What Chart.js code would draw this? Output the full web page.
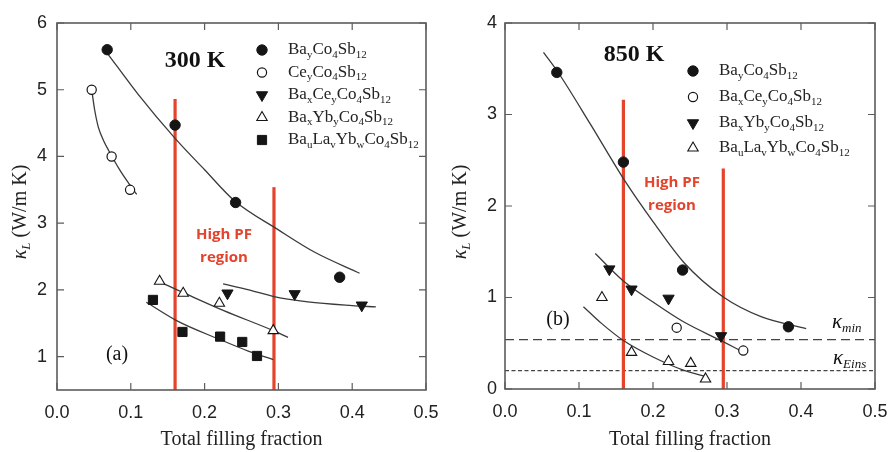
<!DOCTYPE html>
<html>
<head>
<meta charset="utf-8">
<script src="https://cdn.jsdelivr.net/npm/chart.js@4.4.1/dist/chart.umd.min.js"></script>
<style>
    html, body { margin: 0; padding: 0; background: #fff; }
    #wrap { position: relative; width: 889px; height: 452px; }
    #chartA { position: absolute; left: 0; top: 0; }
    #chartB { position: absolute; left: 445px; top: 0; }
</style>
</head>
<body>
<div id="wrap">
    <canvas id="chartA" width="445" height="452"></canvas>
    <canvas id="chartB" width="444" height="452"></canvas>
</div>
<script>
// 축 눈금
const xTicks = [0, 0.1, 0.2, 0.3, 0.4, 0.5];
const yTicksA = [1, 2, 3, 4, 5, 6];
const yTicksB = [0, 1, 2, 3, 4];

// (a) 300 K 측정값 [filling fraction, kappa_L]
const baA = [[0.068, 5.6], [0.16, 4.47], [0.242, 3.31], [0.383, 2.19]];
const ceA = [[0.047, 5.0], [0.074, 4.0], [0.099, 3.5]];
const baCeA = [[0.231, 1.95], [0.322, 1.94], [0.413, 1.77]];
const baYbA = [[0.139, 2.13], [0.171, 1.95], [0.22, 1.8], [0.293, 1.39]];
const baLaYbA = [[0.13, 1.85], [0.17, 1.37], [0.221, 1.3], [0.251, 1.22], [0.271, 1.01]];

// (a) 피팅 곡선
const fitBaA = [[0.068, 5.55], [0.11, 4.93], [0.16, 4.27], [0.20, 3.8], [0.24, 3.34], [0.30, 2.9], [0.35, 2.56], [0.41, 2.25]];
const fitCeA = [[0.047, 5.0], [0.051, 4.7], [0.056, 4.44], [0.063, 4.24], [0.07, 4.09], [0.085, 3.8], [0.099, 3.57], [0.108, 3.43]];
const fitBaCeA = [[0.225, 2.09], [0.26, 2.0], [0.294, 1.9], [0.34, 1.82], [0.40, 1.765], [0.432, 1.745]];
const fitBaYbA = [[0.141, 2.11], [0.171, 1.96], [0.226, 1.69], [0.293, 1.39], [0.313, 1.29]];
const fitBaLaYbA = [[0.121, 1.815], [0.162, 1.54], [0.221, 1.255], [0.26, 1.08], [0.293, 0.955]];

// (b) 850 K 측정값
const baB = [[0.07, 3.46], [0.16, 2.48], [0.24, 1.3], [0.383, 0.68]];
const baCeB = [[0.232, 0.67], [0.322, 0.42]];
const baYbB = [[0.141, 1.31], [0.171, 1.09], [0.221, 0.99], [0.292, 0.58]];
const baLaYbB = [[0.131, 1.0], [0.171, 0.4], [0.221, 0.3], [0.251, 0.28], [0.271, 0.11]];

// (b) 피팅 곡선
const fitBaB = [[0.052, 3.68], [0.071, 3.47], [0.115, 2.9], [0.16, 2.3], [0.2, 1.83], [0.242, 1.38], [0.294, 1.01], [0.346, 0.79], [0.407, 0.66]];
const fitBaYbB = [[0.122, 1.48], [0.16, 1.18], [0.2, 0.95], [0.24, 0.74], [0.294, 0.52], [0.323, 0.4]];
const fitBaLaYbB = [[0.106, 0.9], [0.13, 0.72], [0.16, 0.53], [0.2, 0.35], [0.24, 0.21], [0.274, 0.13]];

// 기준선 (kappa_min, kappa_Eins)
const kappaMin = 0.54;
const kappaEins = 0.2;

// High PF 영역 경계 [x, 선 위쪽 끝]
const pfLinesA = [[0.16, 4.86], [0.294, 3.54]];
const pfLinesB = [[0.16, 3.16], [0.295, 2.41]];

// 범례
const legendA = ['Ba_{y}Co_{4}Sb_{12}', 'Ce_{y}Co_{4}Sb_{12}', 'Ba_{x}Ce_{y}Co_{4}Sb_{12}', 'Ba_{x}Yb_{y}Co_{4}Sb_{12}', 'Ba_{u}La_{v}Yb_{w}Co_{4}Sb_{12}'];
const legendB = ['Ba_{y}Co_{4}Sb_{12}', 'Ba_{x}Ce_{y}Co_{4}Sb_{12}', 'Ba_{x}Yb_{y}Co_{4}Sb_{12}', 'Ba_{u}La_{v}Yb_{w}Co_{4}Sb_{12}'];

const RED = '#e4432c';
const CURVE = '#3a3a3a';
const INK = '#151515';

const markerStyles = {
    fcirc: { pointStyle: 'circle', radius: 5.2, rotation: 0, fill: INK, borderWidth: 1 },
    ocirc: { pointStyle: 'circle', radius: 4.6, rotation: 0, fill: '#fff', borderWidth: 1.2 },
    dtri: { pointStyle: 'triangle', radius: 6.5, rotation: 180, fill: INK, borderWidth: 1 },
    utri: { pointStyle: 'triangle', radius: 6, rotation: 0, fill: '#fff', borderWidth: 1.1 },
    sq: { pointStyle: 'rect', radius: 6.5, rotation: 0, fill: INK, borderWidth: 1 }
};

const toXY = arr => arr.map(([x, y]) => ({ x, y }));

function pointDs(data, m) {
    const s = markerStyles[m];
    return {
        data: toXY(data), showLine: false,
        pointStyle: s.pointStyle, pointRadius: s.radius, pointRotation: s.rotation,
        pointBackgroundColor: s.fill, pointBorderColor: INK, pointBorderWidth: s.borderWidth,
        order: 0
    };
}

function lineDs(data, color, width, dash, order) {
    return {
        data: toXY(data), showLine: true, pointRadius: 0,
        borderColor: color, borderWidth: width, borderDash: dash || [],
        cubicInterpolationMode: 'monotone', fill: false, order: order
    };
}

// 아래첨자 포함 텍스트 그리기
function parseFormula(str) {
    return str.split(/_\{([^}]*)\}/).map((t, i) => ({ t, sub: i % 2 === 1 })).filter(s => s.t);
}

function drawSegs(ctx, segs, x, y, size, align) {
    const subSize = Math.round(size * 0.64);
    const fontOf = s => `${s.it ? 'italic ' : ''}${s.sub ? subSize : size}px "Liberation Serif"`;
    let w = 0;
    segs.forEach(s => { ctx.font = fontOf(s); w += ctx.measureText(s.t).width; });
    let cx = align === 'center' ? x - w / 2 : x;
    ctx.textAlign = 'left';
    ctx.textBaseline = 'middle';
    segs.forEach(s => {
        ctx.font = fontOf(s);
        ctx.fillText(s.t, cx, s.sub ? y + size * 0.3 : y);
        cx += ctx.measureText(s.t).width;
    });
}

function drawMarker(ctx, m, x, y) {
    const s = markerStyles[m];
    ctx.fillStyle = s.fill;
    ctx.strokeStyle = INK;
    ctx.lineWidth = s.borderWidth;
    Chart.helpers.drawPoint(ctx, { pointStyle: s.pointStyle, radius: s.radius, rotation: s.rotation, borderWidth: s.borderWidth }, x, y);
}

// 테두리, 안쪽 눈금, 주석 텍스트
function decorPlugin(cfg) {
    return {
        id: 'decor',
        afterDraw(chart) {
            const ctx = chart.ctx, a = chart.chartArea;
            const xs = chart.scales.x, ys = chart.scales.y;
            ctx.save();

            ctx.strokeStyle = '#5c5c5c';
            ctx.lineWidth = 1.2;
            ctx.beginPath();
            xs.ticks.forEach(t => {
                const p = xs.getPixelForValue(t.value);
                ctx.moveTo(p, a.bottom); ctx.lineTo(p, a.bottom - 7);
                ctx.moveTo(p, a.top); ctx.lineTo(p, a.top + 7);
            });
            ys.ticks.forEach(t => {
                const p = ys.getPixelForValue(t.value);
                ctx.moveTo(a.left, p); ctx.lineTo(a.left + 7, p);
                ctx.moveTo(a.right, p); ctx.lineTo(a.right - 7, p);
            });
            ctx.stroke();
            ctx.lineWidth = 1.6;
            ctx.strokeRect(a.left, a.top, a.right - a.left, a.bottom - a.top);

            ctx.fillStyle = '#222';
            // x축 제목
            ctx.font = '20px "Liberation Serif"';
            ctx.textAlign = 'center';
            ctx.textBaseline = 'middle';
            ctx.fillText('Total filling fraction', (a.left + a.right) / 2, 440);

            // y축 제목
            ctx.save();
            ctx.translate(cfg.yTitleX, 212);
            ctx.rotate(-Math.PI / 2);
            drawSegs(ctx, [{ t: 'κ', it: true }, { t: 'L', it: true, sub: true }, { t: ' (W/m K)' }], 0, 0, 20, 'center');
            ctx.restore();

            // 온도, 패널 라벨
            ctx.fillStyle = '#111';
            ctx.font = 'bold 24px "Liberation Serif"';
            ctx.textAlign = 'center';
            ctx.fillText(cfg.temp, cfg.tempPos[0], cfg.tempPos[1]);
            ctx.font = '20px "Liberation Serif"';
            ctx.fillText(cfg.panel, cfg.panelPos[0], cfg.panelPos[1]);

            // High PF region
            ctx.fillStyle = RED;
            ctx.font = 'bold 15px "Open Sans"';
            ctx.fillText('High PF', cfg.pfPos[0], cfg.pfPos[1]);
            ctx.fillText('region', cfg.pfPos[0], cfg.pfPos[1] + 23);

            // 범례
            cfg.legend.forEach((lab, i) => {
                const y = cfg.legRows[i];
                drawMarker(ctx, cfg.markers[i], cfg.legX, y);
                ctx.fillStyle = '#222';
                drawSegs(ctx, parseFormula(lab), cfg.legX + 26, y, 17, 'left');
            });

            // kappa 기준선 라벨
            if (cfg.kappaLabels) {
                ctx.fillStyle = '#111';
                drawSegs(ctx, [{ t: 'κ', it: true }, { t: 'min', it: true, sub: true }], 387, 322, 21, 'left');
                drawSegs(ctx, [{ t: 'κ', it: true }, { t: 'Eins', it: true, sub: true }], 388, 358, 21, 'left');
            }
            ctx.restore();
        }
    };
}

function makeChart(id, cfg) {
    const ctx = document.getElementById(id).getContext('2d');
    new Chart(ctx, {
        type: 'scatter',
        data: { datasets: cfg.datasets },
        options: {
            responsive: false,
            animation: false,
            devicePixelRatio: 1,
            events: [],
            layout: { padding: { top: 23, right: cfg.padRight, left: 0, bottom: 0 } },
            plugins: { legend: { display: false }, tooltip: { enabled: false } },
            scales: {
                x: {
                    type: 'linear', min: 0, max: 0.5,
                    afterBuildTicks: s => { s.ticks = xTicks.map(v => ({ value: v })); },
                    afterFit: s => { s.height = cfg.xHeight; },
                    grid: { display: false, drawTicks: true, tickLength: 12 },
                    border: { display: false },
                    ticks: {
                        padding: 0, color: '#222',
                        font: { family: 'Liberation Sans', size: 18 },
                        callback: v => v.toFixed(1)
                    }
                },
                y: {
                    type: 'linear', min: cfg.yMin, max: cfg.yMax,
                    afterBuildTicks: s => { s.ticks = cfg.yTicks.map(v => ({ value: v })); },
                    afterFit: s => { s.width = cfg.yWidth; },
                    grid: { display: false, drawTicks: false },
                    border: { display: false },
                    ticks: {
                        padding: cfg.yPad, color: '#222',
                        font: { family: 'Liberation Sans', size: 18 },
                        callback: v => String(v)
                    }
                }
            }
        },
        plugins: [decorPlugin(cfg)]
    });
}

// (a) 300 K
const markersA = ['fcirc', 'ocirc', 'dtri', 'utri', 'sq'];
makeChart('chartA', {
    yMin: 0.5, yMax: 6, yTicks: yTicksA, yWidth: 57, yPad: 10, xHeight: 62, padRight: 19,
    yTitleX: 21, temp: '300 K', tempPos: [195, 61], panel: '(a)', panelPos: [117, 355],
    pfPos: [224, 235], legend: legendA, markers: markersA, legX: 262,
    legRows: [50, 72.5, 95, 117.5, 140], kappaLabels: false,
    datasets: [
        pointDs(baA, 'fcirc'), pointDs(ceA, 'ocirc'), pointDs(baCeA, 'dtri'),
        pointDs(baYbA, 'utri'), pointDs(baLaYbA, 'sq'),
        lineDs(fitBaA, CURVE, 1.3, null, 1), lineDs(fitCeA, CURVE, 1.3, null, 1),
        lineDs(fitBaCeA, CURVE, 1.3, null, 1), lineDs(fitBaYbA, CURVE, 1.3, null, 1),
        lineDs(fitBaLaYbA, CURVE, 1.3, null, 1),
        ...pfLinesA.map(([x, top]) => lineDs([[x, 0.5], [x, top]], RED, 3.2, null, 2))
    ]
});

// (b) 850 K
const markersB = ['fcirc', 'ocirc', 'dtri', 'utri'];
makeChart('chartB', {
    yMin: 0, yMax: 4, yTicks: yTicksB, yWidth: 60, yPad: 8, xHeight: 63, padRight: 14,
    yTitleX: 16, temp: '850 K', tempPos: [189, 55], panel: '(b)', panelPos: [113, 320],
    pfPos: [227, 183], legend: legendB, markers: markersB, legX: 248,
    legRows: [71, 97, 123, 148], kappaLabels: true,
    datasets: [
        pointDs(baB, 'fcirc'), pointDs(baCeB, 'ocirc'), pointDs(baYbB, 'dtri'),
        pointDs(baLaYbB, 'utri'),
        lineDs(fitBaB, CURVE, 1.3, null, 1), lineDs(fitBaYbB, CURVE, 1.3, null, 1),
        lineDs(fitBaLaYbB, CURVE, 1.3, null, 1),
        ...pfLinesB.map(([x, top]) => lineDs([[x, 0], [x, top]], RED, 3.2, null, 2)),
        lineDs([[0, kappaMin], [0.5, kappaMin]], '#444', 1.3, [9, 5], 3),
        lineDs([[0, kappaEins], [0.5, kappaEins]], '#444', 1.3, [4, 2.5], 3)
    ]
});
</script>
</body>
</html>
